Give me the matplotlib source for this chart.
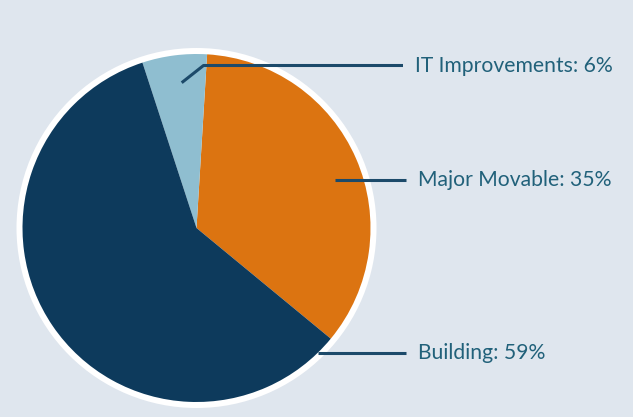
import matplotlib
matplotlib.use("Agg")
import matplotlib.pyplot as plt
from matplotlib.patches import Circle

# data (counter-clockwise order starting at the lower right)
labels = ["Major Movable", "IT Improvements", "Building"]
shares = [35, 6, 59]
colors = ["#dc7411", "#8fbed0", "#0d3a5c"]

bg = "#dfe6ee"
text_col = "#21617a"
line_col = "#1c4a6a"

W, H = 633, 417
fig = plt.figure(figsize=(W / 100, H / 100), dpi=100, facecolor=bg)
ax = fig.add_axes([0, 0, 1, 1])
ax.set_facecolor(bg)

# pixel-like coordinates, y measured from the bottom
cx, cy, r = 196.5, H - 228, 174

ax.add_patch(Circle((cx, cy), r + 6, facecolor="white", edgecolor="none", zorder=1))
wedges, _ = ax.pie(shares, colors=colors, startangle=-39.5, counterclock=True,
                   center=(cx, cy), radius=r, frame=True,
                   wedgeprops=dict(edgecolor="none", zorder=2))
for w in wedges:
    w.set_zorder(2)

# leader lines and labels
leaders = {
    "IT Improvements": [(181.7, 82.7), (203.5, 65.5), (403, 65.5)],
    "Major Movable": [(335, 180), (406, 180)],
    "Building": [(318, 353), (406, 353)],
}
for lab, val in zip(labels, shares):
    pts = leaders[lab]
    xs = [p[0] for p in pts]
    ys = [H - p[1] for p in pts]
    ax.plot(xs, ys, color=line_col, lw=2.2, solid_capstyle="butt", zorder=3)
    ax.text(xs[-1] + 12, ys[-1], f"{lab}: {val}%", color=text_col,
            fontsize=15.2, family="Lato", va="center", ha="left", zorder=3)

ax.set_xlim(0, W)
ax.set_ylim(0, H)
ax.set_aspect("auto")
ax.axis("off")

fig.savefig("out.png", dpi=100, facecolor=bg)
